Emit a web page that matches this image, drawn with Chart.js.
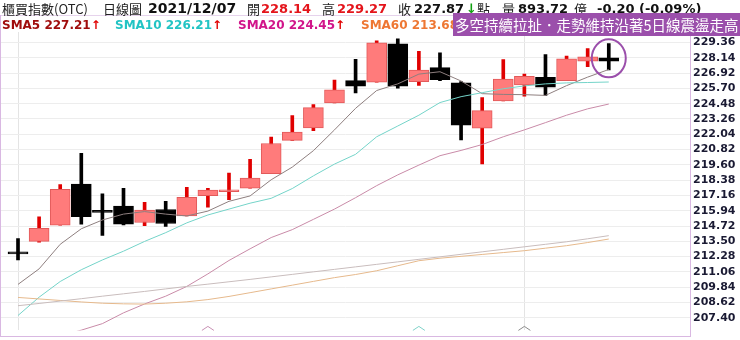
<!DOCTYPE html>
<html><head><meta charset="utf-8">
<script src="https://cdn.jsdelivr.net/npm/chart.js@4.4.1/dist/chart.umd.min.js"></script>
<style>
html,body{margin:0;padding:0;background:#fff;}
#wrap{position:relative;width:740px;height:340px;overflow:hidden;background:#fff;}
#c{position:absolute;left:0;top:0;}
.t{position:absolute;white-space:nowrap;line-height:1;}
.cjk{font-family:"Noto Sans CJK TC","Noto Sans CJK SC",sans-serif;font-size:13px;color:#222;}
.num{font-family:"DejaVu Sans",Verdana,sans-serif;font-weight:bold;font-size:13px;}
.r1{top:2px;}
.r2{top:19px;font-family:"DejaVu Sans",Verdana,sans-serif;font-weight:bold;font-size:12px;}
.up{color:#E00000;}
#box{position:absolute;left:453px;top:13px;width:287px;height:23px;background:#9B4FAB;color:#fff;
 font-family:"Noto Sans CJK TC","Noto Sans CJK SC",sans-serif;font-size:14.5px;line-height:23px;white-space:nowrap;padding-left:2px;box-sizing:border-box;}
#frame{position:absolute;left:0;top:15px;width:689px;height:321px;border-left:1px solid #D9B8E2;border-right:1px solid #D9B8E2;border-bottom:1px solid #D9B8E2;}
#topline{position:absolute;left:0;top:15px;width:740px;height:1px;background:#E6D3EC;}
</style></head>
<body><div id="wrap">
<canvas id="c" width="740" height="340"></canvas>
<div id="topline"></div><div id="frame"></div>
<div class="t r1 cjk" style="left:2px">櫃買指數(OTC)</div>
<div class="t r1 cjk" style="left:103px">日線圖</div>
<div class="t num" style="left:148px;top:1px;font-size:14px;color:#111">2021/12/07</div>
<div class="t r1 cjk" style="left:247px">開</div>
<div class="t r1 num" style="left:261px;color:#E4141B">228.14</div>
<div class="t r1 cjk" style="left:322px">高</div>
<div class="t r1 num" style="left:337px;color:#E4141B">229.27</div>
<div class="t r1 cjk" style="left:398px">收</div>
<div class="t r1 num" style="left:414px;color:#111">227.87</div>
<div class="t r1 num" style="left:466px;color:#11A011">↓</div>
<div class="t r1 cjk" style="left:477px">點</div>
<div class="t r1 cjk" style="left:502px">量</div>
<div class="t r1 num" style="left:518px;color:#111">893.72</div>
<div class="t r1 cjk" style="left:574px">億</div>
<div class="t r1 num" style="left:597px;color:#111">-0.20 (-0.09%)</div>
<div class="t r2" style="left:2px;color:#A00D0D">SMA5 227.21<span class="up">↑</span></div>
<div class="t r2" style="left:115px;color:#22C4C4">SMA10 226.21<span class="up">↑</span></div>
<div class="t r2" style="left:238px;color:#D1158A">SMA20 224.45<span class="up">↑</span></div>
<div class="t r2" style="left:361px;color:#EE7733">SMA60 213.68</div>
<div id="box">多空持續拉扯．走勢維持沿著5日線震盪走高</div>
</div>
<script>
const opens  = [212.55,213.49,214.79,218.07,215.85,216.30,215.00,216.04,215.52,217.14,217.45,217.73,218.90,221.55,222.55,224.55,226.32,226.19,229.26,226.24,227.36,226.14,222.52,224.71,225.98,226.58,226.32,227.88,228.14];
const highs  = [213.72,215.46,218.02,220.52,217.29,217.73,216.61,216.69,217.81,217.73,218.95,220.05,221.82,223.54,224.40,226.37,228.01,229.49,229.65,228.66,228.53,226.24,224.97,227.99,226.84,228.40,228.27,228.87,229.27];
const lows   = [212.01,213.43,214.79,214.87,213.96,214.80,214.74,214.68,215.52,216.22,216.82,217.73,218.90,221.55,222.33,224.55,225.33,226.19,225.72,225.93,226.32,221.58,219.68,224.71,225.07,225.14,226.32,227.44,227.17];
const closes = [212.50,214.53,217.65,215.46,215.81,214.87,215.99,214.92,217.00,217.59,217.49,218.54,221.30,222.21,224.16,225.59,225.88,229.34,225.88,227.17,226.39,222.76,223.93,226.45,226.66,225.80,228.06,228.22,227.87];
const sma5   = [210.06,211.30,213.26,214.50,215.20,215.67,215.87,215.67,215.52,215.91,216.69,217.12,218.41,219.42,220.73,222.39,224.11,225.53,226.06,226.84,227.03,226.29,225.28,225.22,225.20,225.14,225.92,226.60,227.21];
const sma10  = [207.58,209.04,210.29,211.23,212.01,212.71,213.49,214.19,214.97,215.60,216.07,216.54,216.93,217.71,218.72,219.66,220.44,221.84,222.70,223.56,224.57,225.04,225.36,225.67,225.90,226.06,226.14,226.17,226.21];
const sma20  = [205.00,205.45,205.95,206.41,206.93,207.79,208.50,209.12,209.90,210.90,211.97,212.90,213.80,214.43,215.25,216.07,216.98,217.94,218.80,219.58,220.33,220.75,221.22,221.84,222.39,222.97,223.56,224.07,224.45];
const sma60  = [209.02,208.90,208.78,208.66,208.56,208.51,208.49,208.56,208.67,208.85,209.10,209.40,209.70,210.00,210.30,210.60,210.85,211.15,211.55,211.95,212.15,212.30,212.45,212.60,212.75,212.95,213.15,213.40,213.68];
const smaLong= [208.36,208.54,208.73,208.92,209.12,209.31,209.50,209.70,209.90,210.08,210.27,210.46,210.66,210.86,211.06,211.26,211.46,211.66,211.86,212.06,212.26,212.46,212.66,212.86,213.06,213.26,213.46,213.70,213.95];
const yTicks = [207.40,208.62,209.84,211.06,212.28,213.50,214.72,215.94,217.16,218.38,219.60,220.82,222.04,223.26,224.48,225.70,226.92,228.14,229.36];
const vLineIdx = [0,24];
const markIdx = [9,19,24];
const markColors = ['#C890B4','#7FD2C9','#8A8A8A'];

const isUp = i => closes[i] >= opens[i];
const idx = closes.map((_, i) => i);
const bodyData = idx.map(i => ({x: i, y: [opens[i], closes[i]]}));
const wickData = idx.map(i => ({x: i, y: [lows[i], highs[i]]}));
const lineData = arr => arr.map((v, i) => ({x: i, y: v}));
const lineDs = (arr, color) => ({type:'line', data: lineData(arr), borderColor: color, borderWidth: 1, pointRadius: 0, tension: 0, order: 0});

const annot = {
  id: 'annot',
  afterDatasetsDraw(chart) {
    const {ctx, scales: {x, y}, chartArea} = chart;
    const last = closes.length - 1;
    const cx = x.getPixelForValue(last), cy = y.getPixelForValue(opens[last]);
    ctx.save();
    ctx.strokeStyle = '#9B4FAB'; ctx.lineWidth = 2;
    ctx.beginPath(); ctx.ellipse(cx, cy + 0.5, 17, 19, 0, 0, Math.PI * 2); ctx.stroke();
    markIdx.forEach((m, k) => {
      const px = x.getPixelForValue(m);
      ctx.strokeStyle = markColors[k]; ctx.lineWidth = 1;
      ctx.beginPath();
      ctx.moveTo(px - 6, chartArea.bottom); ctx.lineTo(px, chartArea.bottom - 4); ctx.lineTo(px + 6, chartArea.bottom);
      ctx.stroke();
    });
    ctx.restore();
  }
};

new Chart(document.getElementById('c'), {
  data: {
    datasets: [
      lineDs(smaLong, '#C9BDBD'),
      lineDs(sma60, '#E6B98C'),
      lineDs(sma20, '#C98BA8'),
      lineDs(sma10, '#74D4C9'),
      lineDs(sma5, '#8E7F7F'),
      {type:'bar', data: bodyData, grouped: false, barThickness: 20, minBarLength: 2, order: 1,
       backgroundColor: c => isUp(c.dataIndex) ? '#FF7B7B' : '#000000',
       borderColor: c => isUp(c.dataIndex) ? '#E25A5A' : '#000000',
       borderWidth: 1, borderSkipped: false},
      {type:'bar', data: wickData, grouped: false, barThickness: 3, order: 2,
       backgroundColor: c => isUp(c.dataIndex) ? '#E00000' : '#000000', borderWidth: 0}
    ]
  },
  options: {
    responsive: false, animation: false,
    layout: {padding: {top: 32, bottom: 3, left: 1, right: 0}},
    plugins: {legend: {display: false}, tooltip: {enabled: false}},
    scales: {
      x: {type: 'linear', min: -0.806, max: 31.85, offset: false,
          afterBuildTicks: s => { s.ticks = vLineIdx.map(v => ({value: v})); },
          ticks: {display: false}, border: {display: false},
          grid: {color: '#E4E4E4', drawTicks: false, lineWidth: 1, offset: false}},
      y: {position: 'right', min: 206.39, max: 230.20,
          afterBuildTicks: s => { s.ticks = yTicks.map(v => ({value: v})); },
          afterFit: s => { s.width = 50; },
          border: {display: false},
          grid: {color: '#EDEDED', drawTicks: false},
          ticks: {padding: 3, color: '#1A1A33', font: {family: 'DejaVu Sans', weight: 'bold', size: 11},
                  callback: v => Number(v).toFixed(2)}}
    }
  },
  plugins: [annot]
});
</script>
</body></html>
